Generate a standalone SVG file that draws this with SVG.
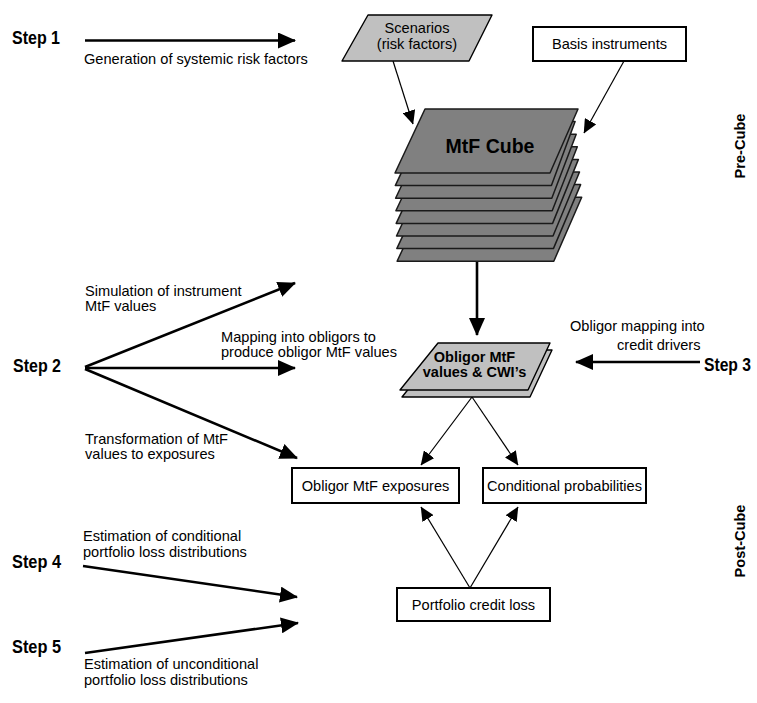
<svg xmlns="http://www.w3.org/2000/svg" width="757" height="703" viewBox="0 0 757 703">
<style>
.t{font-family:"Liberation Sans",Arial,sans-serif;font-size:14.6px;fill:#000}
.b{font-family:"Liberation Sans",Arial,sans-serif;font-weight:bold;fill:#000}
.st{font-family:"Liberation Sans",Arial,sans-serif;font-weight:bold;font-size:18px;fill:#000}
.box{fill:#fff;stroke:#000;stroke-width:2}
.lg{fill:#c0c0c0;stroke:#000;stroke-width:1.4;stroke-linejoin:round}
.dg{fill:#808080;stroke:#1a1a1a;stroke-width:1.5;stroke-linejoin:round}
.thick{stroke:#000;stroke-width:2.6;fill:none}
.thin{stroke:#000;stroke-width:1.2;fill:none}
</style>
<defs>
<marker id="big" viewBox="0 0 18 16" refX="17" refY="8" markerWidth="18" markerHeight="16" markerUnits="userSpaceOnUse" orient="auto"><path d="M0,0 L18,8 L0,16 z" fill="#000"/></marker>
<marker id="sm" viewBox="0 0 14 13" refX="13.5" refY="6.5" markerWidth="14" markerHeight="13" markerUnits="userSpaceOnUse" orient="auto"><path d="M0,0 L14,6.5 L0,13 z" fill="#000"/></marker>
</defs>

<g id="connectors">
<line class="thick" x1="85" y1="40.5" x2="295" y2="40.5" marker-end="url(#big)"/>
<line class="thick" x1="85" y1="367" x2="295" y2="283" marker-end="url(#big)"/>
<line class="thick" x1="85" y1="368" x2="295" y2="368" marker-end="url(#big)"/>
<line class="thick" x1="85" y1="369" x2="297" y2="458" marker-end="url(#big)"/>
<line class="thick" x1="700" y1="362" x2="576" y2="362" marker-end="url(#big)"/>
<line class="thick" x1="83" y1="566" x2="297" y2="597" marker-end="url(#big)"/>
<line class="thick" x1="85" y1="653" x2="298" y2="623" marker-end="url(#big)"/>
<line class="thick" x1="477" y1="261" x2="477" y2="335" marker-end="url(#big)"/>
<line class="thin" x1="393" y1="61" x2="413" y2="124" marker-end="url(#sm)"/>
<line class="thin" x1="624" y1="61" x2="584" y2="133" marker-end="url(#sm)"/>
<line class="thin" x1="472" y1="397" x2="421" y2="465" marker-end="url(#sm)"/>
<line class="thin" x1="472" y1="397" x2="518" y2="465" marker-end="url(#sm)"/>
<line class="thin" x1="470" y1="588" x2="421" y2="507" marker-end="url(#sm)"/>
<line class="thin" x1="470" y1="588" x2="518" y2="507" marker-end="url(#sm)"/>
</g>

<g id="step1">
<text class="st" x="12" y="44" textLength="48" lengthAdjust="spacingAndGlyphs">Step 1</text>
<text class="t" x="84" y="64">Generation of systemic risk factors</text>
</g>

<g id="scenarios">
<polygon class="lg" points="368,15 492,15 469,61 342,61"/>
<text class="t" x="417" y="33" text-anchor="middle">Scenarios</text>
<text class="t" x="417" y="49" text-anchor="middle">(risk factors)</text>
</g>

<g id="basis">
<rect class="box" x="533" y="27" width="153" height="34"/>
<text class="t" x="609.5" y="49" text-anchor="middle">Basis instruments</text>
</g>

<g id="mtf-cube">
<polygon class="dg" points="427.1,197.2 581.7,197.2 553.8,261.2 397.1,261.2"/>
<polygon class="dg" points="426.8,184.6 580.6,184.6 553.4,248.6 396.8,248.6"/>
<polygon class="dg" points="426.5,172 579.5,172 553,236 396.5,236"/>
<polygon class="dg" points="426.2,159.4 578.4,159.4 552.6,223.4 396.2,223.4"/>
<polygon class="dg" points="425.9,146.8 577.3,146.8 552.2,210.8 395.9,210.8"/>
<polygon class="dg" points="425.6,134.2 576.2,134.2 551.8,198.2 395.6,198.2"/>
<polygon class="dg" points="425.3,121.6 575.1,121.6 551.4,185.6 395.3,185.6"/>
<polygon class="dg" points="425,109 578,109 550,173 395,173"/>
<text class="b" x="490" y="153" font-size="19.5" text-anchor="middle">MtF Cube</text>
</g>

<g id="obligor-mtf">
<polygon class="lg" points="440,350 552,350 530,397 402,397"/>
<polygon class="lg" points="438,343 550,343 528,390 400,390"/>
<text class="b" x="474.5" y="362" font-size="14.5" text-anchor="middle">Obligor MtF</text>
<text class="b" x="474.5" y="377" font-size="14.5" text-anchor="middle">values &amp; CWI’s</text>
</g>

<g id="step2">
<text class="st" x="13" y="372" textLength="48" lengthAdjust="spacingAndGlyphs">Step 2</text>
<text class="t" x="85" y="296">Simulation of instrument</text>
<text class="t" x="85" y="311">MtF values</text>
<text class="t" x="221" y="342">Mapping into obligors to</text>
<text class="t" x="221" y="357">produce obligor MtF values</text>
<text class="t" x="85" y="444">Transformation of MtF</text>
<text class="t" x="85" y="459">values to exposures</text>
</g>

<g id="step3">
<text class="st" x="704" y="371" font-size="17" textLength="47" lengthAdjust="spacingAndGlyphs">Step 3</text>
<text class="t" x="570" y="331">Obligor mapping into</text>
<text class="t" x="617" y="350">credit drivers</text>
</g>

<g id="exposures">
<rect class="box" x="292" y="468" width="167" height="35"/>
<text class="t" x="375.5" y="491" text-anchor="middle">Obligor MtF exposures</text>
</g>

<g id="conditional">
<rect class="box" x="483" y="468" width="163" height="35"/>
<text class="t" x="564.5" y="491" text-anchor="middle">Conditional probabilities</text>
</g>

<g id="portfolio">
<rect class="box" x="397" y="588" width="153" height="33"/>
<text class="t" x="473.5" y="610" text-anchor="middle">Portfolio credit loss</text>
</g>

<g id="step4">
<text class="st" x="12" y="568" textLength="49" lengthAdjust="spacingAndGlyphs">Step 4</text>
<text class="t" x="83" y="541">Estimation of conditional</text>
<text class="t" x="83" y="557">portfolio loss distributions</text>
</g>

<g id="step5">
<text class="st" x="12" y="653" textLength="49" lengthAdjust="spacingAndGlyphs">Step 5</text>
<text class="t" x="84" y="669">Estimation of unconditional</text>
<text class="t" x="84" y="685">portfolio loss distributions</text>
</g>

<g id="phases">
<text class="b" font-size="14.6" text-anchor="middle" transform="translate(745,146) rotate(-90)">Pre-Cube</text>
<text class="b" font-size="14.6" text-anchor="middle" transform="translate(745,541) rotate(-90)">Post-Cube</text>
</g>
</svg>
